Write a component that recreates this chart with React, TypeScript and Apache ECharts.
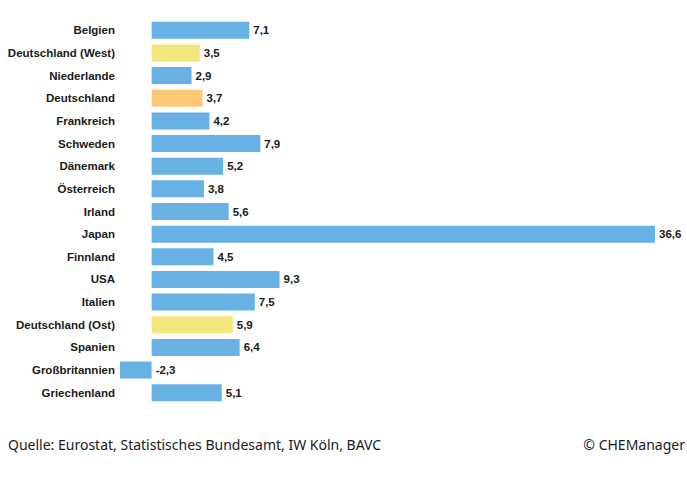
import React, { useEffect, useRef } from "react";
import * as echarts from "echarts";

const countries = [
  "Belgien",
  "Deutschland (West)",
  "Niederlande",
  "Deutschland",
  "Frankreich",
  "Schweden",
  "Dänemark",
  "Österreich",
  "Irland",
  "Japan",
  "Finnland",
  "USA",
  "Italien",
  "Deutschland (Ost)",
  "Spanien",
  "Großbritannien",
  "Griechenland",
];

const values = [7.1, 3.5, 2.9, 3.7, 4.2, 7.9, 5.2, 3.8, 5.6, 36.6, 4.5, 9.3, 7.5, 5.9, 6.4, -2.3, 5.1];

// highlight groups: "west"/"ost" yellow, "de" orange, rest blue
const groups = ["", "west", "", "de", "", "", "", "", "", "", "", "", "", "ost", "", "", ""];

const sourceText = "Quelle: Eurostat, Statistisches Bundesamt, IW Köln, BAVC";
const creditText = "© CHEManager";

const BLUE = "#67B1E5";
const YELLOW = "#F2E67D";
const ORANGE = "#FBC878";

const LABEL_FONT = "'Liberation Sans', Arial, sans-serif";
const FOOT_FONT = "14px 'Noto Sans', 'Open Sans', sans-serif";

function colorFor(g: string): string {
  if (g === "west" || g === "ost") return YELLOW;
  if (g === "de") return ORANGE;
  return BLUE;
}

export default function App() {
  const ref = useRef<HTMLDivElement>(null);

  useEffect(() => {
    if (!ref.current) return;
    const chart = echarts.init(ref.current, undefined, { renderer: "svg" });
    chart.setOption({
      animation: false,
      backgroundColor: "#ffffff",
      grid: {
        left: 120,
        top: 19,
        width: 535,
        height: 385,
        containLabel: false,
        outerBoundsMode: "none",
      },
      xAxis: {
        type: "value",
        min: -2.3,
        max: 36.6,
        show: false,
      },
      yAxis: {
        type: "category",
        data: countries,
        inverse: true,
        axisLine: { show: false, onZero: false },
        axisTick: { show: false },
        axisLabel: {
          margin: 5,
          color: "#1a1a1a",
          fontFamily: LABEL_FONT,
          fontWeight: "bold",
          fontSize: 11.5,
        },
      },
      series: [
        {
          type: "bar",
          barWidth: 17,
          data: values.map((v, i) => ({
            value: v,
            itemStyle: { color: colorFor(groups[i]) },
          })),
          label: {
            show: true,
            position: "right",
            distance: 4,
            color: "#1a1a1a",
            fontFamily: LABEL_FONT,
            fontWeight: "bold",
            fontSize: 11.5,
            formatter: (p: any) => String(p.value).replace(".", ","),
          },
        },
      ],
      graphic: [
        {
          type: "text",
          left: 8,
          top: 437,
          style: { text: sourceText, fill: "#1a1a1a", font: FOOT_FONT },
        },
        {
          type: "text",
          right: 2,
          top: 437,
          style: { text: creditText, fill: "#1a1a1a", font: FOOT_FONT },
        },
      ],
    });
    return () => chart.dispose();
  }, []);

  return (
    <div
      ref={ref}
      style={{ position: "fixed", left: 0, top: 0, width: 687, height: 479, background: "#fff" }}
    />
  );
}
